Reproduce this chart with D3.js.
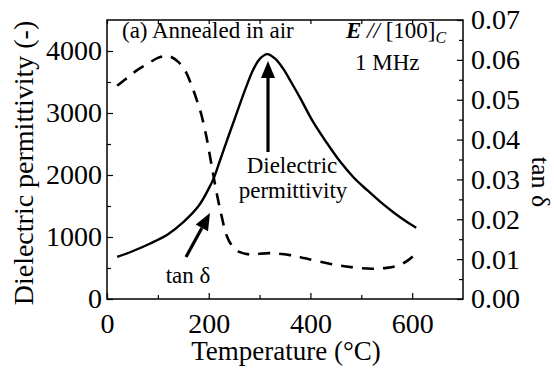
<!DOCTYPE html>
<html>
<head>
<meta charset="utf-8">
<script src="https://cdn.jsdelivr.net/npm/d3@7"></script>
<style>
body{margin:0;background:#fff;}
svg text{font-family:"Liberation Serif","Times New Roman",Times,serif;fill:#000;}
</style>
</head>
<body>
<div class="container"></div>
<script>
// temperature (C) and dielectric permittivity, solid curve, left axis
var permTemp=[20,50,85,120,150,180,200,210,222,236,250,262,275,287,300,315,330,346,362,380,405,432,458,485,511,537,563,585,608];
var permVal=[680,770,895,1045,1240,1500,1780,1950,2230,2560,2880,3160,3450,3690,3870,3950,3880,3720,3500,3240,2860,2520,2220,1960,1760,1570,1400,1270,1150];

// tan delta, dashed curve, right axis
var tanTemp=[20,40,60,80,100,120,140,155,165,175,185,195,205,215,225,235,245,260,280,320,360,390,440,480,520,550,575,595,610];
var tanVal=[0.0535,0.0555,0.0575,0.059,0.0605,0.061,0.0595,0.057,0.054,0.0505,0.0465,0.041,0.034,0.027,0.021,0.016,0.0135,0.0118,0.0112,0.0115,0.011,0.0102,0.0088,0.008,0.0076,0.0078,0.0085,0.0100,0.0118];

var xTicks=[0,200,400,600];
var xMinor=[100,300,500];
var leftTicks=[0,1000,2000,3000,4000];
var leftMinor=[500,1500,2500,3500];
var rightTicks=[0,0.01,0.02,0.03,0.04,0.05,0.06,0.07];
var rightMinor=[0.005,0.015,0.025,0.035,0.045,0.055,0.065];

var width=554, height=369;
var plot={left:107,right:463,top:20,bottom:299};

var svg=d3.select(".container").append("svg").attr("width",width).attr("height",height);

var x=d3.scaleLinear().domain([0,700]).range([plot.left,plot.right]);
var yL=d3.scaleLinear().domain([0,4500]).range([plot.bottom,plot.top]);
var yR=d3.scaleLinear().domain([0,0.07]).range([plot.bottom,plot.top]);

// frame
svg.append("rect")
    .attr("x",plot.left).attr("y",plot.top)
    .attr("width",plot.right-plot.left).attr("height",plot.bottom-plot.top)
    .attr("fill","none").attr("stroke","#000").attr("stroke-width",1.5);

// axes, ticks pointing inward
function fmtR(d){ return d3.format(".2f")(d); }

svg.append("g").attr("transform","translate(0,"+plot.bottom+")")
    .call(d3.axisBottom(x).tickValues(xTicks).tickSizeInner(-6).tickSizeOuter(0).tickPadding(14));
svg.append("g").attr("transform","translate(0,"+plot.bottom+")")
    .call(d3.axisBottom(x).tickValues(xMinor).tickSizeInner(-4).tickSizeOuter(0).tickFormat(""));
svg.append("g").attr("transform","translate(0,"+plot.top+")")
    .call(d3.axisTop(x).tickValues(xTicks.concat(xMinor)).tickSizeInner(-4).tickSizeOuter(0).tickFormat(""));

svg.append("g").attr("transform","translate("+plot.left+",0)")
    .call(d3.axisLeft(yL).tickValues(leftTicks).tickSizeInner(-6).tickSizeOuter(0).tickPadding(5).tickFormat(d3.format("d")));
svg.append("g").attr("transform","translate("+plot.left+",0)")
    .call(d3.axisLeft(yL).tickValues(leftMinor).tickSizeInner(-4).tickSizeOuter(0).tickFormat(""));

svg.append("g").attr("transform","translate("+plot.right+",0)")
    .call(d3.axisRight(yR).tickValues(rightTicks).tickSizeInner(-6).tickSizeOuter(0).tickPadding(8).tickFormat(fmtR));
svg.append("g").attr("transform","translate("+plot.right+",0)")
    .call(d3.axisRight(yR).tickValues(rightMinor).tickSizeInner(-4).tickSizeOuter(0).tickFormat(""));

svg.selectAll(".domain").remove();
svg.selectAll(".tick line").attr("stroke","#000").attr("stroke-width",1.2);
svg.selectAll(".tick text").attr("font-size","28px");

// curves
var permLine=d3.line()
    .x(function(d,i){ return x(permTemp[i]); })
    .y(function(d,i){ return yL(d); })
    .curve(d3.curveCatmullRom);
var tanLine=d3.line()
    .x(function(d,i){ return x(tanTemp[i]); })
    .y(function(d,i){ return yR(d); })
    .curve(d3.curveCatmullRom);

svg.append("path").attr("d",tanLine(tanVal))
    .attr("fill","none").attr("stroke","#000").attr("stroke-width",2.6)
    .attr("stroke-dasharray","12,9");
svg.append("path").attr("d",permLine(permVal))
    .attr("fill","none").attr("stroke","#000").attr("stroke-width",2.4);

// axis titles
svg.append("text")
    .attr("transform","translate(33,"+163+") rotate(-90)")
    .attr("text-anchor","middle").attr("font-size","28px")
    .text("Dielectric permittivity (-)");
svg.append("text")
    .attr("x",286).attr("y",360)
    .attr("text-anchor","middle").attr("font-size","27px")
    .text("Temperature (\u00b0C)");
svg.append("text")
    .attr("transform","translate(532,"+182+") rotate(90)")
    .attr("text-anchor","middle").attr("font-size","26px")
    .text("tan \u03b4");

// annotations
svg.append("text").attr("x",122).attr("y",38).attr("font-size","23px")
    .text("(a) Annealed in air");

var eText=svg.append("text").attr("x",346).attr("y",38).attr("font-size","23px");
eText.append("tspan").attr("font-weight","bold").attr("font-style","italic").text("E");
eText.append("tspan").attr("font-style","italic").text(" //");
eText.append("tspan").text(" [100]");
eText.append("tspan").attr("font-style","italic").attr("font-size","16px").attr("dy",5).text("C");

svg.append("text").attr("x",355).attr("y",70).attr("font-size","23px").text("1 MHz");

svg.append("text").attr("x",292).attr("y",173).attr("text-anchor","middle").attr("font-size","23px").text("Dielectric");
svg.append("text").attr("x",293).attr("y",198).attr("text-anchor","middle").attr("font-size","23px").text("permittivity");
svg.append("text").attr("x",188).attr("y",283).attr("text-anchor","middle").attr("font-size","23px").text("tan \u03b4");

// arrows
function arrow(x1,y1,x2,y2){
    var ang=Math.atan2(y2-y1,x2-x1);
    var hl=17, hw=7;
    var bx=x2-hl*Math.cos(ang), by=y2-hl*Math.sin(ang);
    svg.append("line").attr("x1",x1).attr("y1",y1).attr("x2",bx).attr("y2",by)
        .attr("stroke","#000").attr("stroke-width",3.2);
    var px=-Math.sin(ang)*hw, py=Math.cos(ang)*hw;
    svg.append("path")
        .attr("d","M"+x2+","+y2+"L"+(bx+px)+","+(by+py)+"L"+(bx-px)+","+(by-py)+"Z")
        .attr("fill","#000");
}
arrow(268,152,268,61);
arrow(186,257,210,213);
</script>
</body>
</html>
